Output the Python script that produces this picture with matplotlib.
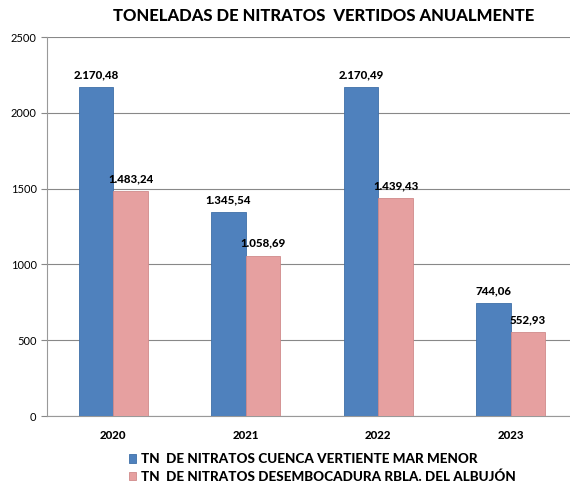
import matplotlib
matplotlib.use("Agg")
import matplotlib.pyplot as plt
import numpy as np

plt.rcParams['font.family'] = ['Lato', 'DejaVu Sans']

# Datos
anios = ["2020", "2021", "2022", "2023"]
cuenca = [2170.48, 1345.54, 2170.49, 744.06]
albujon = [1483.24, 1058.69, 1439.43, 552.93]
etiq_cuenca = ["2.170,48", "1.345,54", "2.170,49", "744,06"]
etiq_albujon = ["1.483,24", "1.058,69", "1.439,43", "552,93"]
serie1 = "TN  DE NITRATOS CUENCA VERTIENTE MAR MENOR"
serie2 = "TN  DE NITRATOS DESEMBOCADURA RBLA. DEL ALBUJÓN"

fig = plt.figure(figsize=(5.7, 4.88), dpi=100)
ax = fig.add_axes([0.0825, 0.1475, 0.93, 0.7765])

x = np.arange(len(anios))
w = 0.26
b1 = ax.bar(x - w/2, cuenca, w, color="#4F81BD", edgecolor="#3E6FA8", linewidth=0.6, label=serie1, zorder=3)
b2 = ax.bar(x + w/2, albujon, w, color="#E6A0A0", edgecolor="#D08A8A", linewidth=0.6, label=serie2, zorder=3)

for rect, t in zip(b1, etiq_cuenca):
    ax.text(rect.get_x() + rect.get_width()/2, rect.get_height() + 45, t,
            ha="center", va="bottom", fontsize=8.3, fontweight="black")
for rect, t in zip(b2, etiq_albujon):
    ax.text(rect.get_x() + rect.get_width()/2, rect.get_height() + 45, t,
            ha="center", va="bottom", fontsize=8.3, fontweight="black")

ax.set_xlim(-0.5, 3.5)
ax.set_ylim(0, 2500)
ax.set_yticks([0, 500, 1000, 1500, 2000, 2500])
ax.set_xticks(x)
ax.set_xticklabels(anios, fontweight="black", fontsize=8.3)
ax.tick_params(axis="y", labelsize=8, length=4, color="#888888")
ax.tick_params(axis="x", length=0, pad=10)
ax.grid(axis="y", color="#888888", linewidth=0.8, zorder=0)
for s in ["top", "right"]:
    ax.spines[s].set_visible(False)
ax.spines["left"].set_color("#999999")
ax.spines["bottom"].set_color("#999999")

fig.suptitle("TONELADAS DE NITRATOS  VERTIDOS ANUALMENTE", x=0.568, y=0.983,
             fontsize=12, fontweight="black")

fig.legend(handles=[b1, b2], loc="lower center", bbox_to_anchor=(0.565, -0.015), ncol=1,
           frameon=False, prop={"weight": "black", "size": 9.7}, handlelength=0.55,
           handleheight=0.55, handletextpad=0.35, labelspacing=0.4)

fig.savefig("out.png", dpi=100)
